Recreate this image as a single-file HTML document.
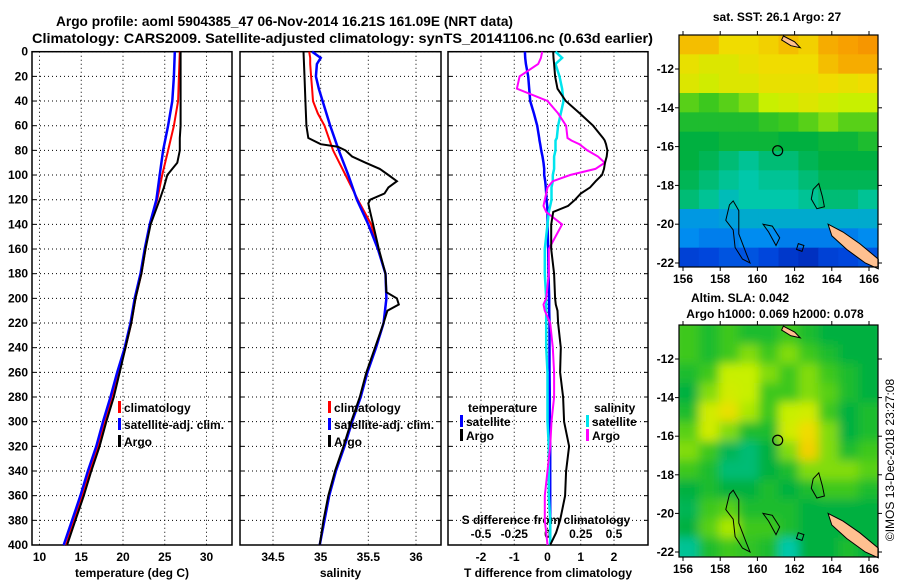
<!DOCTYPE html>
<html><head><meta charset="utf-8">
<style>
html,body{margin:0;padding:0;background:#fff;}
svg{display:block;font-family:"Liberation Sans",sans-serif;font-weight:bold;}
</style></head>
<body>
<svg id="chart" width="900" height="580" viewBox="0 0 900 580" xmlns="http://www.w3.org/2000/svg">
<defs>
<filter id="blur" x="-5%" y="-5%" width="110%" height="110%"><feGaussianBlur stdDeviation="5"/></filter>
<clipPath id="slaclip"><rect x="679" y="325" width="199" height="232"/></clipPath>
<clipPath id="sstclip"><rect x="679" y="35" width="199" height="232"/></clipPath>
</defs>
<text x="56" y="26" font-size="14" textLength="457" lengthAdjust="spacingAndGlyphs">Argo profile: aoml 5904385_47 06-Nov-2014 16.21S 161.09E (NRT data)</text>
<text x="32" y="43" font-size="14" textLength="621" lengthAdjust="spacingAndGlyphs">Climatology: CARS2009. Satellite-adjusted climatology: synTS_20141106.nc (0.63d earlier)</text>
<g id="g"></g>
</svg>
<script>
// ---- data ----
const tDepth = [0,20,40,60,80,100,120,140,160,180,200,220,240,260,280,300,320,340,360,380,400];
const tClim  = [26.8,26.7,26.6,26.1,25.4,24.7,24.1,23.2,22.7,22.2,21.5,21.0,20.3,19.5,18.7,17.8,17.0,16.0,15.1,14.1,13.2];
const tSat   = [26.2,26.1,25.9,25.4,24.8,24.4,24.0,23.2,22.6,22.1,21.4,20.9,20.2,19.3,18.5,17.6,16.8,15.8,14.9,13.9,12.9];
const aDepth = [0,20,40,60,70,80,90,100,110,120,140,160,180,200,220,240,260,280,300,320,340,360,380,400];
const tArgo  = [26.9,26.9,26.9,26.9,26.8,26.8,26.5,25.3,24.9,24.4,23.3,22.7,22.2,21.5,21.0,20.3,19.6,18.9,18.0,17.2,16.2,15.3,14.3,13.3];
const sDepth = [0,5,10,20,30,40,50,60,80,100,120,140,160,180,200,220,240,260,280,300,320,340,360,380,400];
const sClim  = [34.88,34.89,34.89,34.90,34.91,34.92,34.97,35.04,35.13,35.26,35.39,35.53,35.60,35.68,35.69,35.66,35.58,35.49,35.42,35.33,35.25,35.16,35.09,35.04,34.99];
const sSat   = [34.91,35.0,34.96,34.95,34.98,35.02,35.06,35.10,35.19,35.29,35.38,35.50,35.60,35.68,35.69,35.66,35.58,35.49,35.42,35.33,35.25,35.16,35.09,35.04,34.99];
const saDepth= [0,20,40,60,70,75,77,80,85,90,95,100,105,110,115,120,123,130,140,160,180,195,200,205,210,220,240,260,280,300,320,340,360,380,400];
const sArgo  = [34.82,34.83,34.84,34.85,34.87,35.0,35.18,35.26,35.33,35.47,35.62,35.71,35.80,35.71,35.67,35.52,35.50,35.52,35.55,35.61,35.68,35.69,35.80,35.82,35.70,35.66,35.57,35.48,35.41,35.32,35.24,35.15,35.08,35.03,34.99];
const dDepth = [0,5,10,20,30,40,50,60,70,72,75,80,85,90,95,100,105,110,115,120,125,130,140,160,180,200,205,210,220,240,260,280,300,320,340,360,380,390,400];
const dTsat  = [-0.68,-0.67,-0.65,-0.58,-0.55,-0.52,-0.41,-0.31,-0.25,-0.24,-0.22,-0.19,-0.15,-0.12,-0.1,-0.1,-0.07,-0.05,-0.04,-0.03,-0.01,0,0,0.02,0.03,0.05,0.05,0.05,0.06,0.06,0.06,0.07,0.07,0.08,0.08,0.08,0.08,0.08,0.08];
const dTargo = [0.17,0.18,0.2,0.23,0.3,0.55,0.97,1.37,1.67,1.72,1.76,1.8,1.78,1.73,1.7,1.64,1.45,1.28,1.0,0.83,0.62,0.17,0.11,0.11,0.2,0.23,0.25,0.3,0.32,0.4,0.38,0.47,0.5,0.65,0.56,0.53,0.38,0.26,0.08];
const dSsat  = [0.06,0.11,0.06,0.09,0.11,0.12,0.1,0.08,0.07,0.06,0.06,0.06,0.05,0.05,0.05,0.04,0.04,0.03,0.03,0.03,0.02,0.01,0,-0.02,-0.02,-0.01,-0.01,-0.01,-0.01,-0.01,0,0,0,0.01,0.01,0.01,0.02,0.02,0.02];
const dSargo = [-0.04,-0.05,-0.07,-0.21,-0.23,0.0,0.08,0.14,0.15,0.18,0.24,0.3,0.38,0.43,0.36,0.17,0.04,0,-0.01,-0.02,-0.03,-0.01,0.11,0.01,0.01,-0.01,-0.03,-0.02,0.02,0.04,0.05,0.05,0.03,0.02,0.0,-0.02,-0.02,-0.01,0.0];
const depthTicks = [0,20,40,60,80,100,120,140,160,180,200,220,240,260,280,300,320,340,360,380,400];
const tTicks = [10,15,20,25,30];
const sTicks = [34.5,35,35.5,36];
const dTTicks = [-2,-1,0,1,2];
const dSTicks = [-0.5,-0.25,0,0.25,0.5];
const dSTickLabels = ["-0.5","-0.25","0","0.25","0.5"];
const sstMap = [
 [0.85,0.85,0.8,0.8,0.82,0.85,0.82,0.88,0.9,0.92],
 [0.78,0.75,0.75,0.78,0.8,0.8,0.8,0.85,0.88,0.88],
 [0.75,0.72,0.75,0.75,0.78,0.78,0.78,0.8,0.78,0.8],
 [0.62,0.6,0.62,0.65,0.7,0.72,0.75,0.72,0.7,0.7],
 [0.55,0.55,0.55,0.55,0.58,0.6,0.62,0.65,0.62,0.62],
 [0.5,0.5,0.52,0.52,0.52,0.5,0.5,0.52,0.52,0.55],
 [0.5,0.48,0.45,0.42,0.45,0.45,0.48,0.5,0.5,0.5],
 [0.48,0.45,0.42,0.4,0.42,0.42,0.45,0.48,0.48,0.48],
 [0.45,0.42,0.38,0.4,0.4,0.4,0.42,0.45,0.45,0.42],
 [0.32,0.32,0.33,0.35,0.35,0.35,0.35,0.35,0.35,0.35],
 [0.3,0.28,0.28,0.3,0.3,0.28,0.28,0.28,0.28,0.3],
 [0.18,0.2,0.22,0.22,0.2,0.15,0.12,0.18,0.2,0.22]];
const slaMap = [
 [.6,.55,.6,.55,.55,.6,.55,.5,.5,.5],
 [.6,.55,.6,.65,.6,.65,.6,.55,.5,.5],
 [.55,.6,.7,.7,.65,.6,.65,.6,.55,.5],
 [.5,.65,.72,.7,.6,.6,.65,.62,.55,.5],
 [.55,.72,.78,.68,.6,.7,.72,.6,.5,.55],
 [.62,.72,.65,.55,.55,.72,.8,.65,.5,.55],
 [.65,.6,.48,.45,.5,.65,.82,.65,.55,.6],
 [.6,.55,.45,.45,.5,.55,.65,.65,.65,.62],
 [.5,.55,.5,.5,.55,.5,.55,.6,.6,.55],
 [.48,.6,.62,.55,.55,.55,.5,.5,.5,.5],
 [.5,.62,.68,.6,.6,.55,.5,.5,.5,.5],
 [.42,.55,.6,.58,.55,.4,.5,.5,.55,.5]];
const lonTicks = [156,158,160,162,164,166];
const latTicks = [-12,-14,-16,-18,-20,-22];
const argoPos = [161.09,-16.21];

// ---- drawing ----
const NS="http://www.w3.org/2000/svg";
const G=document.getElementById('g');
function mk(tag,attrs,parent){const e=document.createElementNS(NS,tag);for(const k in attrs)e.setAttribute(k,attrs[k]);(parent||G).appendChild(e);return e;}
function txt(s,x,y,anchor,size,parent){const t=mk('text',{x:x,y:y,'text-anchor':anchor||'middle','font-size':size||12},parent);t.textContent=s;return t;}
const TOP=51.7,BOT=545;
function yD(p){return TOP+(BOT-TOP)*p/400;}
function lin(d0,d1,r0,r1){return v=>r0+(v-d0)*(r1-r0)/(d1-d0);}

function panel(name,x0,x1,sc,ticks,labels,xlabel,leftLabels){
  const p=mk('g',{});
  
  
  ticks.forEach(v=>{const x=sc(v);mk('line',{x1:x,y1:TOP,x2:x,y2:BOT,stroke:'#000','stroke-dasharray':'1,3','stroke-width':1},p);});
  depthTicks.forEach(d=>{const y=yD(d);mk('line',{x1:x0,y1:y,x2:x1,y2:y,stroke:'#000','stroke-dasharray':'1,3','stroke-width':1},p);
    mk('line',{x1:x0,y1:y,x2:x0+4,y2:y,stroke:'#000'},p);mk('line',{x1:x1-4,y1:y,x2:x1,y2:y,stroke:'#000'},p);
    if(leftLabels){const t=txt(String(d),x0-4,y+4,'end',12,p);}});
  if(labels){ticks.forEach((v,i)=>{const t=txt(labels[i],sc(v),561,'middle',12,p);});}
  mk('rect',{x:x0,y:TOP,width:x1-x0,height:BOT-TOP,fill:'none',stroke:'#000','stroke-width':1.5},p);
  const xl=txt(xlabel,(x0+x1)/2,577,'middle',12,p);
  
  
  return p;
}
function series(name,depths,vals,sc,color,w){
  const pts=depths.map((d,i)=>sc(vals[i]).toFixed(1)+','+yD(d).toFixed(1)).join(' ');
  const l=mk('polyline',{points:pts,fill:'none',stroke:color,'stroke-width':w||2});
  
  
}
function legend(items,x,y0,dy){
  items.forEach((it,i)=>{const y=y0+i*dy;
    const m=mk('rect',{x:x,y:y-11,width:3,height:12,fill:it[1]});
    
    
    const t=txt(it[0],x+6,y,'start',12);
    
    });
}

const sT=lin(10,30,39.5,206.5);
panel('temperature-panel',32,232,sT,tTicks,tTicks.map(String),'temperature (deg C)',true);
series('temp-climatology-line',tDepth,tClim,sT,'#ff0000',2);
series('temp-satellite-line',tDepth,tSat,sT,'#0000ff',2.5);
series('temp-argo-line',aDepth,tArgo,sT,'#000',2);
legend([['climatology','#f00'],['satellite-adj. clim.','#00f'],['Argo','#000']],118,412,17);

const sS=lin(34.5,36,273,416);
panel('salinity-panel',240,441,sS,sTicks,['34.5','35','35.5','36'],'salinity',false);
series('sal-climatology-line',sDepth,sClim,sS,'#ff0000',2);
series('sal-satellite-line',sDepth,sSat,sS,'#0000ff',2.5);
series('sal-argo-line',saDepth,sArgo,sS,'#000',2);
legend([['climatology','#f00'],['satellite-adj. clim.','#00f'],['Argo','#000']],328,412,17);

const sDT=lin(-2,2,481,614);
const sDS=lin(-0.5,0.5,481,614);
panel('difference-panel',448,648,sDT,dTTicks,dTTicks.map(String),'T difference from climatology',false);
dSTicks.forEach((v,i)=>{const t=txt(dSTickLabels[i],sDS(v),538,'middle',12);});
{const t=txt('S difference from climatology',546,524,'middle',12);}
series('dT-satellite-line',dDepth,dTsat,sDT,'#0000ff',2.5);
series('dS-satellite-line',dDepth,dSsat,sDS,'#00e5ee',2.5);
series('dS-argo-line',dDepth,dSargo,sDS,'#ff00ff',2);
series('dT-argo-line',dDepth,dTargo,sDT,'#000',2);
{const t=txt('temperature',468,412,'start',12);}
legend([['satellite','#00f'],['Argo','#000']],460,426,14);
{const t=txt('salinity',594,412,'start',12);}
legend([['satellite','#00e5ee'],['Argo','#f0f']],586,426,14);

function cmapSST(v){const st=[[0,[0,16,150]],[0.2,[0,70,220]],[0.3,[0,140,240]],[0.4,[0,200,170]],[0.5,[0,176,64]],[0.6,[60,200,30]],[0.7,[200,240,0]],[0.8,[240,220,0]],[0.9,[248,160,0]],[1,[240,110,0]]];
  for(let i=1;i<st.length;i++){if(v<=st[i][0]){const a=st[i-1],b=st[i],f=(v-a[0])/(b[0]-a[0]);return 'rgb('+a[1].map((c,k)=>Math.round(c+(b[1][k]-c)*f)).join(',')+')';}}return 'rgb(240,110,0)';}
function mapPanel(name,data,x0,x1,y0,y1,latToY,lonToX,smooth,clipId){
  const g=mk('g',{});
  
  
  const cg0=mk('g',{'clip-path':'url(#'+clipId+')'},g);
  const cg=smooth?mk('g',{filter:'url(#blur)'},cg0):cg0;
  const rows=data.length,cols=data[0].length,cw=(x1-x0)/cols,ch=(y1-y0)/rows;
  const pad=smooth?8:0;
  data.forEach((row,r)=>row.forEach((v,c)=>{
    const ex0=c==0?pad:0, ey0=r==0?pad:0, ex1=c==cols-1?pad:0, ey1=r==rows-1?pad:0;
    const cell=mk('rect',{x:(x0+c*cw-ex0).toFixed(2),y:(y0+r*ch-ey0).toFixed(2),width:(cw+0.5+ex0+ex1).toFixed(2),height:(ch+0.5+ey0+ey1).toFixed(2),fill:cmapSST(v)},cg);
    
    }));
  const P=(lo,la)=>lonToX(lo).toFixed(1)+','+latToY(la).toFixed(1);
  const isl=[
    [[[163.8,-20.0],[164.6,-20.4],[165.5,-21.0],[166.5,-21.8],[166.5,-22.3],[165.8,-22.0],[164.8,-21.3],[164.0,-20.6]],'#ffc090'],
    [[[161.4,-10.3],[162.0,-10.6],[162.3,-10.9],[161.8,-10.8],[161.3,-10.5]],'#ffc090'],
    [[[158.5,-19.0],[158.7,-18.8],[159.0,-19.3],[159.0,-20.5],[159.4,-21.5],[159.6,-22.0],[159.2,-21.8],[158.8,-21.2],[158.7,-20.3],[158.3,-19.8]],'none'],
    [[[163.0,-18.2],[163.3,-17.9],[163.5,-18.6],[163.6,-19.1],[163.2,-19.2],[162.9,-18.7]],'none'],
    [[[160.3,-20.0],[160.8,-20.1],[161.2,-20.7],[161.0,-21.1],[160.6,-20.4]],'none'],
    [[[162.2,-21.0],[162.5,-21.1],[162.4,-21.4],[162.1,-21.3]],'none']];
  isl.forEach(s=>{const pg=mk('polygon',{points:s[0].map(q=>P(q[0],q[1])).join(' '),fill:s[1],stroke:'#000','stroke-width':1},g);
    
    });
  const c=mk('circle',{cx:lonToX(argoPos[0]),cy:latToY(argoPos[1]),r:5,fill:'none',stroke:'#000','stroke-width':1.2},g);
  
  
  mk('rect',{x:x0,y:y0,width:x1-x0,height:y1-y0,fill:'none',stroke:'#000','stroke-width':1.2},g);
  latTicks.forEach(la=>{const y=latToY(la);mk('line',{x1:x0-4,y1:y,x2:x0,y2:y,stroke:'#000'},g);mk('line',{x1:x1,y1:y,x2:x1+4,y2:y,stroke:'#000'},g);
    const t=txt(String(la),x0-5,y+4,'end',12,g);});
  lonTicks.forEach(lo=>{const x=lonToX(lo);mk('line',{x1:x,y1:y1,x2:x,y2:y1+4,stroke:'#000'},g);mk('line',{x1:x,y1:y0-4,x2:x,y2:y0,stroke:'#000'},g);
    const t=txt(String(lo),x,y1+16,'middle',12,g);});
}
const lonX=lin(156,166,683,869);
mapPanel('sst-map',sstMap,679,878,35,267,lin(-12,-22,69,263),lonX,false,'sstclip');
mapPanel('sla-map',slaMap,679,878,325,557,lin(-12,-22,359,552),lonX,true,'slaclip');
{const t=txt('sat. SST: 26.1 Argo: 27',777,21,'middle',12);}
{const t=txt('Altim. SLA: 0.042',740,302,'middle',12);}
{const t=txt('Argo h1000: 0.069 h2000: 0.078',775,318,'middle',12);}
{const t=txt('©IMOS 13-Dec-2018 23:27:08',0,0,'middle',12);t.setAttribute('transform','translate(894,460) rotate(-90)');t.setAttribute('font-weight','normal');}
</script>
</body></html>
